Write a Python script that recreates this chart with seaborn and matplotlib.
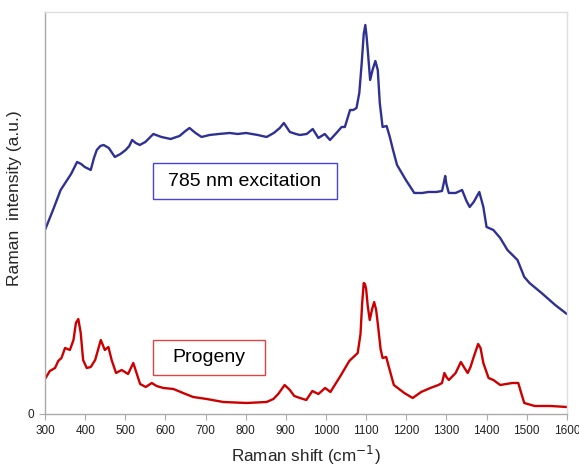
import matplotlib
matplotlib.use("Agg")
import matplotlib.pyplot as plt
import seaborn as sns
import pandas as pd
from matplotlib.patches import Rectangle

# Raman shift (cm-1) and intensity (a.u.)
shift_785 = [300, 320, 339, 352, 365, 380, 390, 399, 414, 422, 429, 438, 446, 459, 474,
             488, 501, 510, 517, 526, 536, 550, 570, 590, 613, 635, 650, 660, 675, 690,
             710, 733, 760, 780, 801, 830, 852, 870, 885, 895, 910, 925, 935, 952, 967,
             981, 997, 1010, 1026, 1039, 1047, 1060, 1068, 1076, 1083, 1089, 1094, 1098,
             1101, 1104, 1110, 1116, 1123, 1129, 1134, 1141, 1151, 1159, 1167, 1177, 1199,
             1220, 1240, 1255, 1275, 1289, 1294, 1297, 1300, 1306, 1323, 1339, 1350, 1358,
             1368, 1382, 1392, 1400, 1417, 1434, 1452, 1477, 1494, 1507, 1537, 1571, 1600]
int_785 = [184, 204, 224, 232, 240, 252, 250, 247, 244, 256, 264, 268, 269, 266, 257,
           260, 264, 268, 274, 271, 269, 272, 280, 277, 275, 278, 283, 286, 281, 277,
           279, 280, 281, 280, 281, 279, 277, 281, 286, 291, 282, 280, 279, 280, 285,
           276, 280, 274, 281, 287, 287, 304, 304, 306, 321, 351, 380, 389,
           378, 364, 334, 344, 353, 344, 311, 287, 288, 277, 264, 249, 234,
           221, 221, 222, 222, 223, 232, 238, 230, 221, 221, 224, 213, 207,
           212, 222, 207, 187, 184, 176, 164, 154, 137, 131, 121, 109, 100]

shift_prog = [300, 312, 325, 333, 341, 350, 362, 371, 377, 383, 389, 395, 404, 414, 425,
              439, 449, 458, 466, 477, 491, 507, 520, 528, 537, 551, 566, 578, 595, 620,
              644, 669, 703, 744, 802, 852, 869, 881, 897, 910, 921, 935, 951, 966, 981,
              998, 1011, 1036, 1058, 1079, 1086, 1090, 1094, 1097, 1100, 1104, 1109, 1115,
              1120, 1125, 1130, 1136, 1141, 1150, 1158, 1169, 1195, 1216, 1237, 1260, 1280,
              1289, 1295, 1300, 1306, 1323, 1336, 1345, 1353, 1360, 1368, 1379, 1385, 1392,
              1405, 1417, 1434, 1464, 1479, 1487, 1494, 1520, 1560, 1600]
int_prog = [35, 43, 46, 53, 56, 66, 64, 74, 91, 95, 81, 54, 46, 47, 54,
            74, 64, 67, 54, 41, 44, 40, 51, 41, 30, 27, 31, 28, 26, 25,
            21, 17, 15, 12, 11, 12, 15, 20, 29, 24, 18, 16, 14, 23, 20,
            26, 22, 38, 53, 61, 80, 110, 131, 130, 125, 108, 94, 105,
            112, 104, 87, 65, 56, 57, 45, 29, 21, 16, 22, 26, 29,
            31, 41, 37, 34, 41, 52, 46, 41, 47, 57, 70, 66, 51,
            36, 34, 29, 31, 31, 20, 11, 8, 8, 7]

x_ticks = list(range(300, 1700, 100))

df_785 = pd.DataFrame({"shift": shift_785, "intensity": int_785})
df_prog = pd.DataFrame({"shift": shift_prog, "intensity": int_prog})

sns.set_style("white")
plt.rcParams["font.family"] = ["Liberation Sans", "DejaVu Sans"]

fig = plt.figure(figsize=(5.79, 4.66), dpi=100)
ax = fig.add_axes([0.0777, 0.1116, 0.9013, 0.8627])

blue = "#2E3192"
red = "#CC0000"
sns.lineplot(data=df_785, x="shift", y="intensity", ax=ax, color=blue, linewidth=1.7)
sns.lineplot(data=df_prog, x="shift", y="intensity", ax=ax, color=red, linewidth=1.7)

ax.set_xlim(300, 1600)
ax.set_ylim(0, 402)
ax.set_xticks(x_ticks)
ax.set_xticklabels([str(t) for t in x_ticks], fontsize=8.5, color="#222222")
ax.set_yticks([0])
ax.set_yticklabels(["0"], fontsize=8.5, color="#222222")
ax.tick_params(axis="both", which="both", direction="out", length=4, width=0.8,
               color="#aaaaaa", pad=4)
ax.tick_params(axis="x", bottom=True)
ax.tick_params(axis="y", left=True)

for side in ["left", "bottom"]:
    ax.spines[side].set_color("#aaaaaa")
    ax.spines[side].set_linewidth(1.0)
for side in ["top", "right"]:
    ax.spines[side].set_color("#dddddd")
    ax.spines[side].set_linewidth(1.0)

ax.set_xlabel("Raman shift (cm$^{-1}$)", fontsize=12.3, labelpad=5)
ax.set_ylabel("Raman  intensity (a.u.)", fontsize=12.5)
ax.yaxis.set_label_coords(-0.044, 0.537)

# Label boxes
ax.add_patch(Rectangle((0.207, 0.535), 0.352, 0.089, transform=ax.transAxes,
                       fill=True, facecolor="white", edgecolor="#4444dd", linewidth=1.0, zorder=5))
ax.text(0.383, 0.5795, "785 nm excitation", transform=ax.transAxes, ha="center", va="center",
        fontsize=14, color="black", zorder=6)
ax.add_patch(Rectangle((0.207, 0.097), 0.214, 0.087, transform=ax.transAxes,
                       fill=True, facecolor="white", edgecolor="#dd4444", linewidth=1.0, zorder=5))
ax.text(0.314, 0.1405, "Progeny", transform=ax.transAxes, ha="center", va="center",
        fontsize=14, color="black", zorder=6)

fig.savefig("out.png", dpi=100)
